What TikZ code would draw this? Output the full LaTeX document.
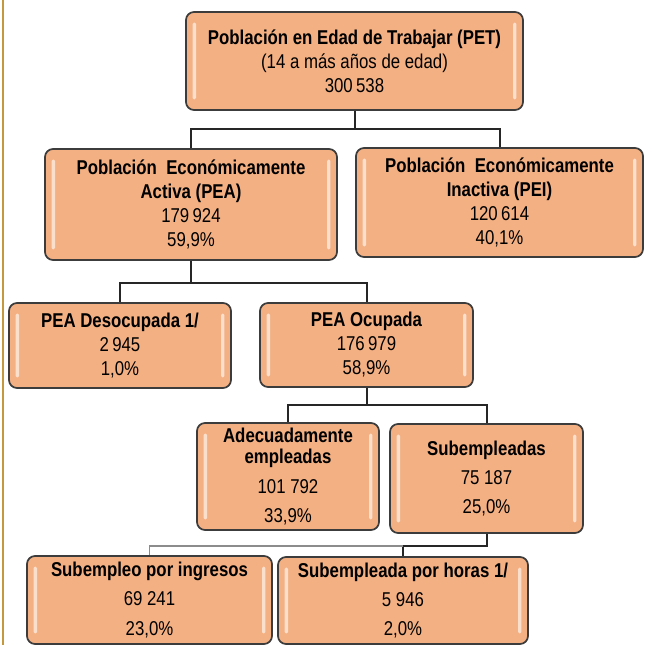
\documentclass[tikz,border=0pt]{standalone}
\usepackage{fontspec}
\setmainfont{Liberation Sans}[FakeStretch=0.84]
\definecolor{salmon}{RGB}{243,176,131}
\definecolor{borde}{RGB}{60,60,60}
\definecolor{dorado}{RGB}{196,152,62}
\begin{document}
\begin{tikzpicture}[x=0.75pt,y=-0.75pt,
  recuadro/.style={draw=borde,line width=1.3pt,fill=salmon,rounded corners=6pt,align=center,
    inner sep=0pt,font=\fontsize{15}{18}\selectfont,
    path picture={
      \fill[white,opacity=.6,rounded corners=1pt]
        ([xshift=5pt,yshift=-8pt]path picture bounding box.north west)
        rectangle ([xshift=7.5pt,yshift=8pt]path picture bounding box.south west);
      \fill[white,opacity=.6,rounded corners=1pt]
        ([xshift=-5pt,yshift=-8pt]path picture bounding box.north east)
        rectangle ([xshift=-7.5pt,yshift=8pt]path picture bounding box.south east);}},
  linea/.style={draw=black!85,line width=1.5pt},
  lineagris/.style={draw=black!45,line width=1pt}]
\useasboundingbox (0,0) rectangle (646,645);
\draw[dorado,line width=1.2pt](3,0)--(3,645);
\node[recuadro,minimum width=252.75pt,minimum height=73.5pt](pet)at(354.5,61)
  {\textbf{Población\ en Edad\ de Trabajar (PET)}\\(14 a más años de edad)\\300\,538};
\node[recuadro,minimum width=219pt,minimum height=83.25pt](pea)at(191,204.5)
  {\textbf{Población\ \ Económicamente}\\\textbf{Activa (PEA)}\\179\,924\\59,9\%};
\node[recuadro,minimum width=215.25pt,minimum height=81.75pt](pei)at(499.5,202.5)
  {\textbf{Población\ \ Económicamente}\\\textbf{Inactiva (PEI)}\\120\,614\\40,1\%};
\node[recuadro,minimum width=166.5pt,minimum height=63.75pt](deso)at(120,345.5)
  {\textbf{PEA Desocupada 1/}\\2\,945\\1,0\%};
\node[recuadro,minimum width=159.75pt,minimum height=63pt](ocup)at(366.5,345)
  {\textbf{PEA Ocupada}\\176\,979\\58,9\%};
\node[recuadro,minimum width=136.5pt,minimum height=80.25pt](adec)at(288,476.5)
  {\textbf{Adecuadamente}\\[-2pt]\textbf{empleadas}\\[4pt]101 792\\[4pt]33,9\%};
\node[recuadro,minimum width=144.75pt,minimum height=81.75pt](subem)at(486.5,478.5)
  {\textbf{Subempleadas}\\[4pt]75 187\\[4pt]25,0\%};
\node[recuadro,minimum width=183.75pt,minimum height=66pt](ingr)at(149.5,600)
  {\textbf{Subempleo por ingresos}\\[4pt]69 241\\[4pt]23,0\%};
\node[recuadro,minimum width=187.5pt,minimum height=65.25pt](horas)at(403,600.5)
  {\textbf{Subempleada por horas 1/}\\[4pt]5 946\\[4pt]2,0\%};
\draw[linea](pet.south)--++(0,18)-|(pea.north);
\draw[linea](pet.south)--++(0,18)-|(pei.north);
\draw[linea](pea.south)--++(0,22)-|(deso.north);
\draw[linea](pea.south)--++(0,22)-|(ocup.north);
\draw[linea](ocup.south)--++(0,17)-|(adec.north);
\draw[linea](ocup.south)--++(0,17)-|(subem.north);
\draw[linea](subem.south)--++(0,12)coordinate(codo)-|(horas.north);
\draw[lineagris](codo-|horas.north)-|(ingr.north);
\end{tikzpicture}
\end{document}
